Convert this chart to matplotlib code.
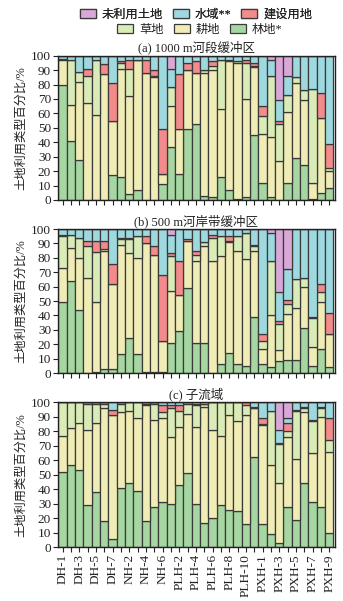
import matplotlib
matplotlib.use("Agg")
import matplotlib.pyplot as plt
from matplotlib.patches import Patch
import numpy as np

plt.rcParams['font.family'] = ['Liberation Serif', 'Noto Sans CJK SC', 'DejaVu Sans']
plt.rcParams['font.weight'] = 'light'

# ---------------- data ----------------
categories = (["DH-%d" % i for i in range(1, 8)] +
              ["NH-%d" % i for i in range(1, 7)] +
              ["PLH-%d" % i for i in range(1, 12)] +
              ["PXH-%d" % i for i in range(1, 10)])

series_names = ["林地*", "耕地", "草地", "建设用地", "水域**", "未利用土地"]
colors = ["#a6d7a2", "#f0ecb6", "#d9ebb7", "#f38a8c", "#9fd9e0", "#d9a7d8"]

# panel (a) 1000 m river-section buffer: columns = forest, crop, grass, built, water, unused
panel_a = [
    [80, 17, 1, 0, 2, 0], [41, 25, 31, 0, 3, 0], [28, 54, 7, 0, 11, 0], [0, 67, 19, 5, 9, 0],
    [0, 59, 38, 0, 3, 0], [0, 87, 0, 7, 6, 0], [17, 38, 0, 26, 19, 0], [16, 75, 4, 1, 4, 0],
    [4, 68, 19, 6, 3, 0], [7, 90, 0, 0, 3, 0], [0, 88, 0, 9, 3, 0], [0, 85, 1, 4, 10, 0],
    [11, 7, 0, 31, 51, 0], [37, 28, 13, 0, 13, 9], [18, 31, 0, 38, 13, 0], [49, 41, 0, 5, 5, 0],
    [53, 35, 0, 8, 4, 0], [3, 85, 2, 0, 10, 0], [2, 88, 3, 3, 4, 0], [16, 47, 34, 0, 3, 0],
    [7, 89, 1, 0, 3, 0], [1, 94, 1, 0, 4, 0], [2, 68, 25, 2, 3, 0], [45, 47, 1, 2, 5, 0],
    [12, 34, 12, 7, 35, 0], [2, 42, 42, 0, 11, 3], [0, 27, 26, 2, 14, 31], [12, 49, 12, 0, 13, 14],
    [29, 52, 4, 0, 15, 0], [24, 45, 7, 0, 24, 0], [1, 11, 65, 0, 23, 0], [5, 52, 0, 17, 26, 0],
    [8, 12, 2, 17, 61, 0],
]

# panel (b) 500 m riparian buffer
panel_b = [
    [49, 24, 22, 1, 4, 0], [64, 23, 9, 0, 4, 0], [44, 36, 14, 0, 6, 0], [0, 66, 22, 4, 8, 0],
    [0.5, 49, 34.5, 8, 8, 0], [3, 82, 1, 6, 8, 0], [3, 59, 0, 14, 24, 0], [13, 76, 4, 1, 6, 0],
    [24, 59, 10, 1, 6, 0], [13, 67, 15, 0, 5, 0], [1, 89, 0, 5, 5, 0], [1, 81, 0, 6, 12, 0],
    [0.5, 22, 0, 45.5, 32, 0], [21, 36, 24, 2, 13, 4], [29, 25, 0, 24, 22, 0], [59, 33, 0, 1, 7, 0],
    [21, 57, 4, 3, 15, 0], [21, 67, 3, 0, 9, 0], [0, 78, 16, 2, 4, 0], [6, 75, 14, 0, 5, 0],
    [14, 77, 1, 3, 5, 0], [6, 79, 10, 0, 5, 0], [5, 74, 18, 0, 3, 0], [39, 46, 3, 1, 11, 0],
    [6, 11, 5, 5, 73, 0], [4, 36, 38, 0, 19, 3], [8, 8, 18, 2, 20, 44], [9, 32, 7, 3, 21, 28],
    [9, 36, 20, 0, 35, 0], [31, 29, 6, 0, 34, 0], [5, 13, 20, 1, 61, 0], [17, 32, 7, 6, 38, 0],
    [4, 23, 0, 15, 58, 0],
]

# panel (c) sub-watershed
panel_c = [
    [52, 25, 23, 0, 0, 0], [57, 25, 18, 0, 0, 0], [53, 33, 14, 0, 0, 0], [29, 52, 18, 1, 0, 0],
    [38, 48, 13, 1, 0, 0], [18, 78, 3, 1, 0, 0], [6, 85, 0, 4, 5, 0], [41, 52, 6, 1, 0, 0],
    [44, 50, 6, 0, 0, 0], [39, 50, 11, 0, 0, 0], [18, 80, 1, 1, 0, 0], [28, 60, 11, 1, 0, 0],
    [31, 58, 4, 5, 2, 0], [30, 46, 20, 2, 2, 0], [43, 40, 11, 4, 2, 0], [51, 41, 7, 1, 0, 0],
    [30, 53, 15, 1, 1, 0], [17, 80, 2, 0, 1, 0], [20, 61, 19, 0, 0, 0], [29, 48, 23, 0, 0, 0],
    [26, 65, 9, 0, 0, 0], [25, 62, 13, 0, 0, 0], [16, 75, 7, 2, 0, 0], [62, 34, 0, 1, 3, 0],
    [16, 68, 1, 4, 11, 0], [9, 48, 37, 0, 6, 0], [3, 41, 27, 1, 9, 19], [28, 48, 4, 6, 3, 11],
    [19, 42, 33, 1, 5, 0], [44, 49, 3, 1, 3, 0], [31, 34, 22, 1, 12, 0], [28, 62, 6, 1, 3, 0],
    [10, 56, 8, 15, 11, 0],
]

titles = ["(a) 1000 m河段缓冲区", "(b) 500 m河岸带缓冲区", "(c) 子流域"]
ylabel = "土地利用类型百分比/%"

# ---------------- figure ----------------
W, H = 343, 601
fig = plt.figure(figsize=(W / 100, H / 100), dpi=100)

left = 58 / W
width = (335 - 58) / W
panel_px = [(55.7, 200.0), (229.0, 373.0), (402.3, 547.2)]
edge = "#3a3a3a"

x = np.arange(len(categories))
for k, (data, title, (top, bot)) in enumerate(zip([panel_a, panel_b, panel_c], titles, panel_px)):
    ax = fig.add_axes([left, 1 - bot / H, width, (bot - top) / H])
    arr = np.array(data, dtype=float)
    bottom = np.zeros(len(categories))
    for j in range(arr.shape[1]):
        ax.bar(x, arr[:, j], bottom=bottom, width=1.0, color=colors[j],
               edgecolor=edge, linewidth=0.9, zorder=2)
        bottom += arr[:, j]
    ax.set_xlim(-0.55, len(categories) - 0.3)
    ax.set_ylim(0, 100)
    ax.set_yticks(np.arange(0, 101, 10))
    ax.set_xticks(x)
    ax.tick_params(axis='both', direction='out', length=3.5, width=0.8, labelsize=9.5, pad=1.5,
                   colors="#222222")
    for s in ax.spines.values():
        s.set_linewidth(1.0)
        s.set_color("#222222")
    if k < 2:
        ax.set_xticklabels([])
    else:
        ax.set_xticklabels([c if i % 2 == 0 else "" for i, c in enumerate(categories)],
                           rotation=90, fontsize=9.5)
    ax.set_title(title, fontsize=9, pad=3, color="#222222")
    ax.set_ylabel(ylabel, fontsize=8.8, labelpad=3, color="#222222")

# legend: two centered rows
handles = [Patch(facecolor=colors[j], edgecolor=edge, linewidth=0.9, label=series_names[j])
           for j in range(len(series_names))]
row1 = [handles[5], handles[4], handles[3]]
row2 = [handles[2], handles[1], handles[0]]
kw = dict(ncol=3, frameon=False, fontsize=8.8, handlelength=1.3, handleheight=0.7,
          handletextpad=0.5, columnspacing=0.8, borderpad=0.1, loc='center', labelcolor="#222222")
leg1 = fig.legend(handles=row1, bbox_to_anchor=(196 / W, 1 - 15 / H), **kw)
fig.add_artist(leg1)
fig.legend(handles=row2, bbox_to_anchor=(200 / W, 1 - 30 / H), **kw)

fig.savefig("out.png", dpi=100)
